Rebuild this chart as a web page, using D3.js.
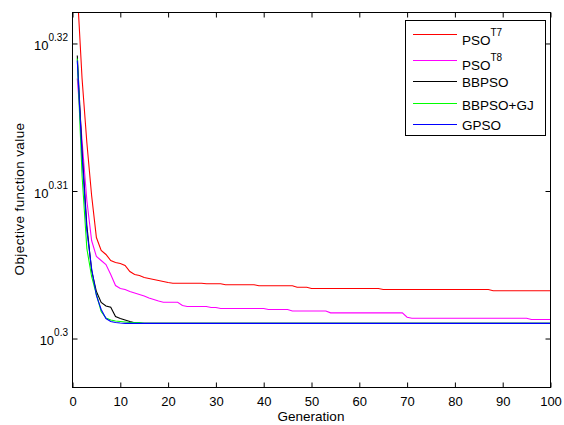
<!DOCTYPE html>
<html>
<head>
<meta charset="utf-8">
<script src="https://cdn.jsdelivr.net/npm/d3@7"></script>
<style>
  body { margin: 0; background: #fff; }
  svg { display: block; font-family: "Liberation Sans", Arial, Helvetica, sans-serif; }
</style>
</head>
<body>
<script>
// Data: [generation, objective value]
const psoT7 = [[1,2.10666],[2,2.07791],[3,2.05725],[4,2.04030],[5,2.02697],[6,2.02286],[7,2.02160],[8,2.01970],[9,2.01908],[10,2.01876],[11,2.01813],[12,2.01624],[13,2.01530],[14,2.01498],[15,2.01435],[16,2.01404],[17,2.01372],[18,2.01341],[19,2.01310],[20,2.01278],[21,2.01256],[27,2.01256],[28,2.01237],[31,2.01237],[32,2.01206],[38,2.01206],[39,2.01175],[46,2.01175],[47,2.01131],[49,2.01131],[50,2.01090],[64,2.01090],[65,2.01058],[87,2.01058],[88,2.01018],[100,2.01018]];
const psoT8 = [[1,2.07791],[2,2.05790],[3,2.03871],[4,2.02602],[5,2.02097],[6,2.01970],[7,2.01844],[8,2.01530],[9,2.01184],[10,2.01090],[11,2.01058],[12,2.00996],[13,2.00949],[14,2.00902],[15,2.00855],[16,2.00793],[17,2.00746],[18,2.00698],[19,2.00661],[22,2.00661],[23,2.00557],[24,2.00526],[28,2.00526],[29,2.00494],[30,2.00494],[31,2.00463],[40,2.00463],[41,2.00431],[45,2.00431],[46,2.00384],[53,2.00384],[54,2.00328],[69,2.00328],[70,2.00190],[71,2.00159],[95,2.00159],[96,2.00118],[100,2.00118]];
const bbpso = [[1,2.08538],[2,2.05469],[3,2.03077],[4,2.01656],[5,2.00996],[6,2.00651],[7,2.00541],[8,2.00504],[9,2.00212],[10,2.00149],[11,2.00102],[12,2.00055],[13,2.00014],[14,2.00000],[100,2.00000]];
const bbpsoGJ = [[1,2.08441],[2,2.04668],[3,2.02349],[4,2.01467],[5,2.00902],[6,2.00369],[7,2.00165],[8,2.00102],[9,2.00071],[10,2.00055],[11,2.00040],[12,2.00024],[14,2.00024],[15,2.00000],[100,2.00000]];
const gpso = [[1,2.08376],[2,2.05308],[3,2.02919],[4,2.01718],[5,2.00871],[6,2.00431],[7,2.00149],[8,2.00055],[9,2.00024],[10,2.00010],[11,2.00000],[100,2.00000]];

const seriesNames = ["PSO", "PSO", "BBPSO", "BBPSO+GJ", "GPSO"];
const seriesSup = ["T7", "T8", "", "", ""];
const seriesColors = ["#ff0000", "#ff00ff", "#000000", "#00ff00", "#0000ff"];
const allSeries = [psoT7, psoT8, bbpso, bbpsoGJ, gpso];

const xTicks = [0, 10, 20, 30, 40, 50, 60, 70, 80, 90, 100];
const yTickExps = ["0.3", "0.31", "0.32"];
const yDomainExps = [0.29668, 0.32210];

// Chart dimensions
const margin = { top: 12.5, left: 72.5 };
const width = 478;
const height = 375;

const svg = d3.select("body")
    .append("svg")
    .attr("width", 564)
    .attr("height", 425);

const g = svg.append("g")
    .attr("transform", "translate(" + margin.left + "," + margin.top + ")");

// Scales
const xScale = d3.scaleLinear().domain([0, 100]).range([0, width]);
const yScale = d3.scaleLog()
    .domain(yDomainExps.map(e => Math.pow(10, e)))
    .range([height, 0]);
const yTicks = yTickExps.map(e => Math.pow(10, +e));

// Clip for the lines
g.append("clipPath").attr("id", "clip")
    .append("rect").attr("width", width).attr("height", height);

// Lines
const line = d3.line()
    .x(d => xScale(d[0]))
    .y(d => yScale(d[1]));

g.append("g").attr("clip-path", "url(#clip)")
    .selectAll("path")
    .data(allSeries)
    .enter().append("path")
    .attr("d", line)
    .attr("fill", "none")
    .attr("stroke", (d, i) => seriesColors[i])
    .attr("stroke-width", 1.1);

// Axes (ticks point inward, box on)
const xAxis = d3.axisBottom(xScale).tickValues(xTicks).tickSizeInner(-5).tickSizeOuter(0).tickPadding(9);
const xAxisTop = d3.axisTop(xScale).tickValues(xTicks).tickSizeInner(-5).tickSizeOuter(0).tickFormat("");
const yAxis = d3.axisLeft(yScale).tickValues(yTicks).tickSizeInner(-5).tickSizeOuter(0).tickFormat("");
const yAxisRight = d3.axisRight(yScale).tickValues(yTicks).tickSizeInner(-5).tickSizeOuter(0).tickFormat("");

const gx = g.append("g").attr("transform", "translate(0," + height + ")").call(xAxis);
g.append("g").call(xAxisTop);
const gy = g.append("g").call(yAxis);
g.append("g").attr("transform", "translate(" + width + ",0)").call(yAxisRight);

g.selectAll(".domain").remove();
g.selectAll(".tick line").attr("stroke", "#000");

gx.selectAll("text")
    .attr("font-size", 13)
    .attr("font-family", null)
    .attr("fill", "#000");

// y tick labels as 10^exp
gy.selectAll(".tick").each(function(d, i) {
    const t = d3.select(this).append("text")
        .attr("x", -4.5)
        .attr("y", 6)
        .attr("text-anchor", "end")
        .attr("fill", "#000")
        .attr("font-family", null);
    t.append("tspan").attr("font-size", 13).text("10");
    t.append("tspan").attr("font-size", 10).attr("dy", -9).text(yTickExps[i]);
});

// Frame
g.append("rect")
    .attr("width", width)
    .attr("height", height)
    .attr("fill", "none")
    .attr("stroke", "#000");

// Axis labels
svg.append("text")
    .attr("x", 311)
    .attr("y", 421)
    .attr("text-anchor", "middle")
    .attr("font-size", 13.5)
    .text("Generation");

svg.append("text")
    .attr("transform", "translate(24,199) rotate(-90)")
    .attr("text-anchor", "middle")
    .attr("font-size", 13.5)
    .attr("letter-spacing", 0.4)
    .text("Objective function value");

// Legend
const legend = svg.append("g");
legend.append("rect")
    .attr("x", 405.5)
    .attr("y", 20.5)
    .attr("width", 140)
    .attr("height", 115)
    .attr("fill", "#fff")
    .attr("stroke", "#000");

const lineYs = [34.5, 60.5, 81.5, 103.5, 124.5];
const textYs = [45, 70, 87, 110, 130];

const items = legend.selectAll(".item")
    .data(seriesNames)
    .enter().append("g")
    .attr("class", "item");

items.append("line")
    .attr("x1", 413)
    .attr("x2", 457)
    .attr("y1", (d, i) => lineYs[i])
    .attr("y2", (d, i) => lineYs[i])
    .attr("stroke", (d, i) => seriesColors[i]);

const labels = items.append("text")
    .attr("x", 462)
    .attr("y", (d, i) => textYs[i])
    .attr("font-size", 13.5);
labels.append("tspan").text(d => d);
labels.append("tspan")
    .attr("font-size", 10)
    .attr("dy", -9)
    .text((d, i) => seriesSup[i]);
</script>
</body>
</html>
